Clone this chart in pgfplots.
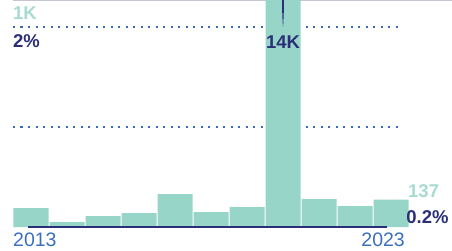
\documentclass[border=0pt]{standalone}
\usepackage{pgfplots}
\pgfplotsset{compat=1.18}
\usepackage{fontspec}
\setmainfont{Liberation Sans}
\definecolor{barc}{HTML}{98D5C9}
\definecolor{tealtxt}{HTML}{A6DCD0}
\definecolor{navy}{HTML}{2B2F78}
\definecolor{dotc}{HTML}{3A6BB5}
\definecolor{yearc}{HTML}{3A6FBF}
\definecolor{topc}{HTML}{C6C6D0}
\begin{document}
\begin{tikzpicture}
\begin{axis}[
  scale only axis, width=452pt, height=250pt,
  xmin=-0.8611, xmax=11.6944, ymin=-115, ymax=1135,
  hide axis, clip mode=individual,
]
% top rule
\addplot[topc, line width=1.2pt] coordinates {(-0.5,1132) (11.6944,1132)};
% dotted gridlines
\addplot[dotc, line width=2.4pt, dash pattern=on 2.4pt off 5.1pt] coordinates {(-0.5,1000) (10.3,1000)};
\addplot[dotc, line width=2.4pt, dash pattern=on 2.4pt off 5.1pt] coordinates {(-0.5,500) (10.3,500)};
% bars
\addplot[ybar, bar width=35pt, fill=barc, draw=none] coordinates {
(0,95) (1,25) (2,55) (3,70) (4,165) (5,75) (6,100) (7,14000) (8,140) (9,105) (10,137)};
% percentage line
\addplot[navy, line width=2pt] coordinates {(-0.08,2) (1,2) (2,2) (3,2) (4,2) (5,2) (6,2) (7,2) (8,2) (9,2) (9.89,2)};
% spike pointer
\addplot[navy, line width=1.2pt] coordinates {(7,1135) (7,1070)};
\addplot[navy!65!barc, line width=1.2pt] coordinates {(7,1070) (7,1040)};
\addplot[navy!35!barc, line width=1.2pt] coordinates {(7,1040) (7,1015)};
\addplot[navy!15!barc, line width=1.2pt] coordinates {(7,1015) (7,1000)};
% labels
\node[anchor=west, inner sep=0pt, text=tealtxt, font=\fontsize{18.5}{18.5}\selectfont\bfseries] at (axis cs:-0.5,1070) {1K};
\node[anchor=west, inner sep=0pt, text=navy, font=\fontsize{18.5}{18.5}\selectfont\bfseries] at (axis cs:-0.5,930) {2\%};
\node[inner sep=0pt, text=navy, font=\fontsize{18.5}{18.5}\selectfont\bfseries] at (axis cs:7,925) {14K};
\node[anchor=west, inner sep=0pt, text=tealtxt, font=\fontsize{18.5}{18.5}\selectfont\bfseries] at (axis cs:10.472,180) {137};
\node[anchor=west, inner sep=0pt, text=navy, font=\fontsize{18.5}{18.5}\selectfont\bfseries] at (axis cs:10.42,50) {0.2\%};
\node[anchor=west, inner sep=0pt, text=yearc, font=\fontsize{19.5}{19.5}\selectfont] at (axis cs:-0.5,-65) {2013};
\node[anchor=east, inner sep=0pt, text=yearc, font=\fontsize{19.5}{19.5}\selectfont] at (axis cs:10.389,-65) {2023};
\end{axis}
\pgfresetboundingbox
\path (current axis.south west) rectangle (current axis.north east);
\end{tikzpicture}
\end{document}
